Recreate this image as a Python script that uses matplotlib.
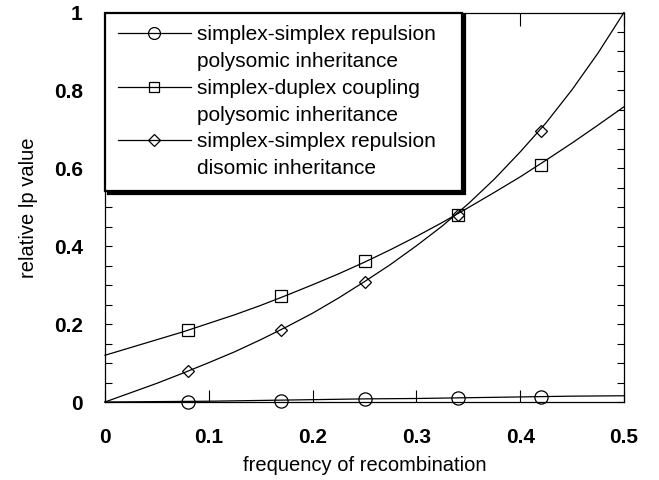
import matplotlib
matplotlib.use("Agg")
import matplotlib.pyplot as plt
from matplotlib.lines import Line2D

plt.rcParams["font.family"] = ["Liberation Sans", "DejaVu Sans"]

# 标记点所在的重组频率
marker_x = [0.08, 0.17, 0.25, 0.34, 0.42]
ss_poly_marks = [0.001, 0.003, 0.008, 0.010, 0.014]
sd_poly_marks = [0.186, 0.272, 0.362, 0.479, 0.608]
ss_di_marks = [0.079, 0.186, 0.308, 0.481, 0.697]

# 曲线（从图上逐点读取）
curve_x = [0.0, 0.025, 0.05, 0.075, 0.10, 0.125, 0.15, 0.175, 0.20, 0.225, 0.25,
           0.275, 0.30, 0.325, 0.35, 0.375, 0.40, 0.425, 0.45, 0.475, 0.50]
ss_poly_curve = [0.0, 0.0005, 0.001, 0.0015, 0.002, 0.003, 0.004, 0.005, 0.006, 0.007, 0.008,
                 0.0085, 0.009, 0.010, 0.011, 0.012, 0.013, 0.014, 0.015, 0.0155, 0.016]
sd_poly_curve = [0.120, 0.140, 0.160, 0.180, 0.202, 0.224, 0.248, 0.274, 0.301, 0.329, 0.359,
                 0.391, 0.425, 0.461, 0.499, 0.538, 0.578, 0.621, 0.665, 0.711, 0.758]
ss_di_curve = [0.0, 0.024, 0.048, 0.074, 0.101, 0.129, 0.160, 0.193, 0.228, 0.267, 0.309,
               0.353, 0.401, 0.452, 0.509, 0.572, 0.642, 0.717, 0.802, 0.896, 1.0]

x_ticks = [0, 0.1, 0.2, 0.3, 0.4, 0.5]
x_ticklabels = ["0", "0.1", "0.2", "0.3", "0.4", "0.5"]
y_ticks = [0, 0.2, 0.4, 0.6, 0.8, 1.0]
y_ticklabels = ["0", "0.2", "0.4", "0.6", "0.8", "1"]

SERIES = [
    (ss_poly_curve, ss_poly_marks, "o", 9.5, "simplex-simplex repulsion", "polysomic inheritance"),
    (sd_poly_curve, sd_poly_marks, "s", 8.5, "simplex-duplex coupling", "polysomic inheritance"),
    (ss_di_curve, ss_di_marks, "D", 6.5, "simplex-simplex repulsion", "disomic inheritance"),
]

fig = plt.figure(figsize=(6.59, 4.80), dpi=100)
ax = fig.add_axes([105 / 659, 78 / 480, 519 / 659, 389.5 / 480])

handles = []
labels = []
for curve, marks, mk, ms, line1, line2 in SERIES:
    ax.plot(curve_x, curve, color="black", lw=0.9, clip_on=False)
    ax.plot(marker_x, marks, linestyle="none", marker=mk, ms=ms, mfc="none",
            mec="black", mew=0.9, clip_on=False)
    handles.append(Line2D([], [], color="black", lw=0.9, marker=mk, ms=ms * 0.9,
                          mfc="none", mec="black", mew=0.9))
    labels.append(line1)
    # 第二行文字不带图例线
    handles.append(Line2D([], [], linestyle="none", marker="none"))
    labels.append(line2)

ax.set_xlim(0, 0.5)
ax.set_ylim(0, 1)
ax.set_xticks(x_ticks)
ax.set_xticklabels(x_ticklabels, fontsize=15, fontweight="bold")
ax.set_yticks(y_ticks)
ax.set_yticklabels(y_ticklabels, fontsize=15, fontweight="bold")
ax.set_yticks([i * 0.05 for i in range(21)], minor=True)
ax.tick_params(axis="x", which="major", direction="in", length=9, width=0.8,
               top=True, pad=19)
ax.tick_params(axis="y", which="both", direction="in", length=5, width=0.8,
               right=True, pad=16)
for sp in ax.spines.values():
    sp.set_linewidth(0.9)

ax.set_xlabel("frequency of recombination", fontsize=14.5, labelpad=6)
ax.set_ylabel("relative lp value", fontsize=14.5, labelpad=11)

leg = ax.legend(handles, labels, loc="upper left", bbox_to_anchor=(0, 0, 0.688, 1.0),
                mode="expand", borderaxespad=0, fontsize=15, handlelength=3.5,
                handletextpad=0.3, labelspacing=0.37, borderpad=0.62,
                fancybox=False, framealpha=1, edgecolor="black",
                shadow={"color": "black", "alpha": 1})
leg.get_frame().set_linewidth(1.6)

fig.savefig("out.png", dpi=100)
